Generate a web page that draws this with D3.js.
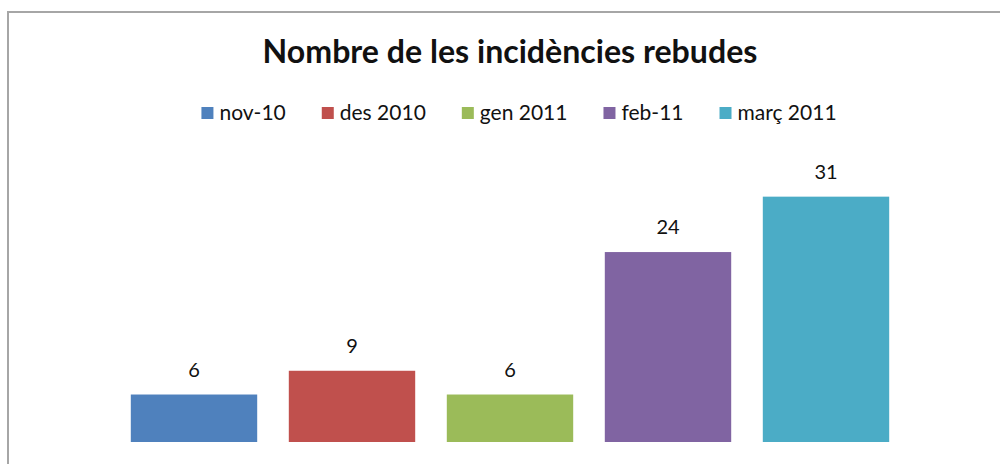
<!DOCTYPE html>
<html>
<head>
<meta charset="utf-8">
<script src="https://cdn.jsdelivr.net/npm/d3@7"></script>
<style>
  body { margin: 0; background: #fff; }
  svg { display: block; font-family: Lato, "Open Sans", sans-serif; }
</style>
</head>
<body>
<svg id="chart" width="1000" height="464"></svg>
<script>
// values
var months = ["nov-10", "des 2010", "gen 2011", "feb-11", "març 2011"];
var counts = [6, 9, 6, 24, 31];
var colors = ["#4F81BD", "#C0504D", "#9BBB59", "#8064A2", "#4BACC6"];
var titleText = "Nombre de les incidències rebudes";

var svg = d3.select("#chart");

// outer frame (right and bottom edges fall outside the picture)
svg.append("rect")
    .attr("x", 8)
    .attr("y", 12)
    .attr("width", 1100)
    .attr("height", 600)
    .attr("fill", "#fff")
    .attr("stroke", "#a6a6a6")
    .attr("stroke-width", 2);

var title = svg.append("text")
    .attr("x", 510)
    .attr("y", 63)
    .attr("text-anchor", "middle")
    .attr("font-weight", "bold")
    .attr("font-size", 29)
    .attr("fill", "#111")
    .text(titleText);

// squeeze the title to the width it has in the picture
var tw = title.node().getComputedTextLength();
if (tw > 0) title.attr("font-size", 29 * 495 / tw);

var x = d3.scaleBand()
    .domain(months)
    .range([115, 905])
    .paddingInner(0.2)
    .paddingOuter(0.1);

var y = d3.scaleLinear()
    .domain([0, 35])
    .range([442, 165]);

svg.selectAll(".bar")
    .data(counts)
    .enter()
    .append("rect")
    .attr("class", "bar")
    .attr("x", function(d, i){ return x(months[i]); })
    .attr("y", function(d){ return y(d); })
    .attr("width", x.bandwidth())
    .attr("height", function(d){ return y(0) - y(d); })
    .attr("fill", function(d, i){ return colors[i]; });

svg.selectAll(".lbl")
    .data(counts)
    .enter()
    .append("text")
    .attr("class", "lbl")
    .attr("x", function(d, i){ return x(months[i]) + x.bandwidth() / 2; })
    .attr("y", function(d){ return y(d) - 18; })
    .attr("text-anchor", "middle")
    .attr("font-size", 20)
    .attr("fill", "#111")
    .text(function(d){ return d; });

// legend, laid out left to right then moved to sit where the picture has it
var legend = svg.append("g");
var cursor = 0;
months.forEach(function(m, i){
    var item = legend.append("g").attr("transform", "translate(" + cursor + ",0)");
    item.append("rect")
        .attr("x", 0)
        .attr("y", -13)
        .attr("width", 12)
        .attr("height", 12)
        .attr("fill", colors[i]);
    var t = item.append("text")
        .attr("x", 18)
        .attr("y", 0)
        .attr("font-size", 21)
        .attr("fill", "#111")
        .text(m);
    cursor += 18 + t.node().getComputedTextLength() + 36;
});
var legW = cursor - 36;
legend.attr("transform", "translate(" + (200 + (638 - legW) / 2) + ",120)");
</script>
</body>
</html>
